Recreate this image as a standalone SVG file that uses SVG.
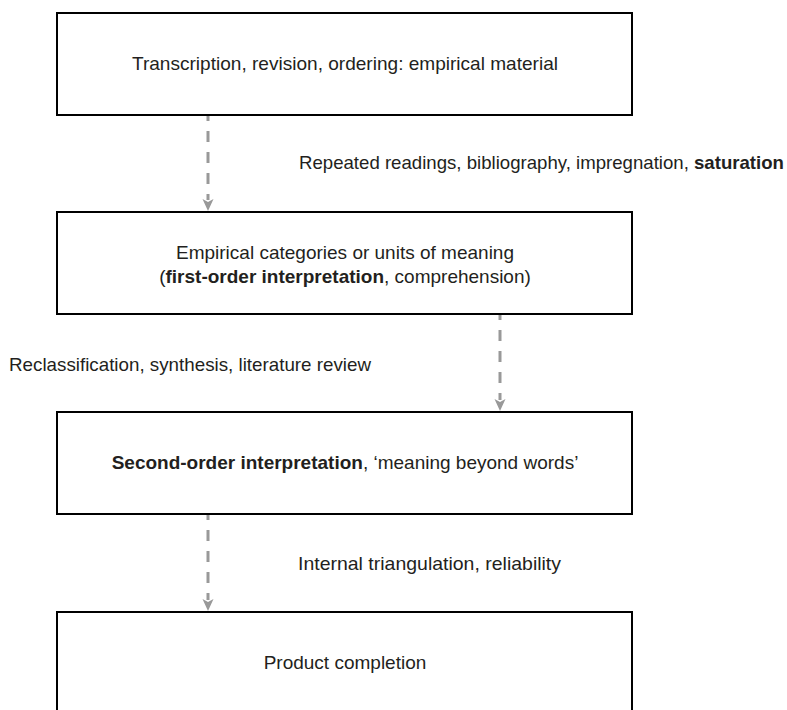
<svg xmlns="http://www.w3.org/2000/svg" width="787" height="710" viewBox="0 0 787 710">
<style>
.box{fill:#fff;stroke:#000;stroke-width:2}
.t{font-family:"Liberation Sans",Arial,sans-serif;font-size:19px;fill:#231f20}
.c{text-anchor:middle}
.b{font-weight:bold}
.con{stroke:#999;stroke-width:3;stroke-dasharray:11 10;stroke-dashoffset:6;fill:none}
.ah{fill:#999}
</style>
<rect width="787" height="710" fill="#fff"/>
<g id="node1">
<rect class="box" x="57" y="13" width="575" height="102"/>
<text class="t c" x="345" y="70" textLength="426" lengthAdjust="spacingAndGlyphs">Transcription, revision, ordering: empirical material</text>
</g>
<g id="node2">
<rect class="box" x="57" y="212" width="575" height="102"/>
<text class="t c" x="345" y="259" textLength="338" lengthAdjust="spacingAndGlyphs">Empirical categories or units of meaning</text>
<text class="t c" x="345" y="283">(<tspan class="b">first-order interpretation</tspan>, comprehension)</text>
</g>
<g id="node3">
<rect class="box" x="57" y="412" width="575" height="102"/>
<text class="t c" x="345" y="469"><tspan class="b">Second-order interpretation</tspan>, ‘meaning beyond words’</text>
</g>
<g id="node4">
<rect class="box" x="57" y="612" width="575" height="102"/>
<text class="t c" x="345" y="669">Product completion</text>
</g>
<g id="connectors">
<line class="con" x1="208" y1="116" x2="208" y2="200"/>
<polygon class="ah" points="202.5,199 208,202 213.5,199 208,211"/>
<line class="con" x1="500" y1="315" x2="500" y2="400"/>
<polygon class="ah" points="494.5,399 500,402 505.5,399 500,411"/>
<line class="con" x1="208" y1="515" x2="208" y2="600"/>
<polygon class="ah" points="202.5,599 208,602 213.5,599 208,611"/>
<text class="t" x="299" y="169" textLength="485" lengthAdjust="spacingAndGlyphs">Repeated readings, bibliography, impregnation, <tspan class="b">saturation</tspan></text>
<text class="t" x="9" y="371" textLength="362" lengthAdjust="spacingAndGlyphs">Reclassification, synthesis, literature review</text>
<text class="t" x="298" y="570" textLength="263" lengthAdjust="spacingAndGlyphs">Internal triangulation, reliability</text>
</g>
</svg>
